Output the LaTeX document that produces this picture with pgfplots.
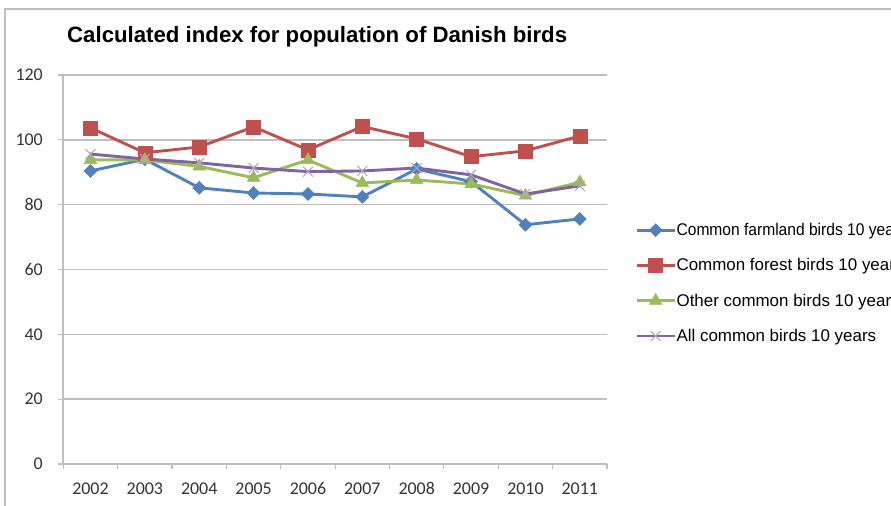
\documentclass[border=0pt]{standalone}
\usepackage{fontspec}
\setmainfont{Liberation Sans}
\newfontfamily\tickfont{Carlito}
\usepackage{pgfplots}
\pgfplotsset{compat=1.18}

\definecolor{farm}{HTML}{4F81BD}
\definecolor{forest}{HTML}{C0504D}
\definecolor{other}{HTML}{9BBB59}
\definecolor{allb}{HTML}{8064A2}
\definecolor{allmark}{HTML}{B3A2C7}
\definecolor{gridc}{HTML}{BEBEBE}

\begin{document}
\begin{tikzpicture}
\useasboundingbox (0,0) rectangle (891bp,506bp);
\clip (0,0) rectangle (891bp,506bp);
% chart frame
\draw[gridc, line width=2bp] (4.5bp,0) -- (4.5bp,497bp) -- (891bp,497bp);
\node[anchor=base west, font=\fontsize{22.3}{26}\selectfont\bfseries, inner sep=0]
  at (67bp,463bp) {Calculated index for population of Danish birds};

\begin{axis}[
    at={(63.3bp,42bp)}, anchor=south west,
    scale only axis, width=543.7bp, height=389bp,
    xmin=-0.5, xmax=9.5, ymin=0, ymax=120,
    xtick={0,...,9},
    xticklabels={2002,2003,2004,2005,2006,2007,2008,2009,2010,2011},
    major x tick style={draw=none},
    minor xtick={-0.5,0.5,...,9.5},
    ytick={0,20,...,120},
    tick align=outside, major tick length=5bp, minor tick length=5bp,
    tick style={gridc, line width=1.2bp},
    ymajorgrids, grid style={gridc, line width=1.6bp},
    axis x line*=bottom, axis y line*=left,
    axis line style={gridc, line width=1.6bp, -},
    xticklabel style={font=\tickfont\fontsize{18}{20}\selectfont, text=black!80, yshift=-10bp},
    yticklabel style={font=\tickfont\fontsize{18}{20}\selectfont, text=black!80, xshift=-12bp,
                      /pgf/number format/assume math mode=true},
    legend style={at={(axis description cs:1.0515,0.465)}, anchor=west,
                  draw=none, fill=none, inner sep=0pt,
                  font=\fontsize{17}{19}\selectfont, row sep=17.5bp,
                  nodes={inner xsep=0.5bp, inner ysep=2bp}},
    legend cell align=left,
    legend image code/.code={\draw[mark repeat=2,mark phase=2]
        plot coordinates {(0bp,0bp)(19bp,0bp)(38bp,0bp)};},
    every axis plot/.append style={line width=2.9bp},
  ]
  \addplot[farm, mark=square*, mark size=4.6bp, mark options={rotate=45, line width=0.5bp}]
    coordinates {(0,90.4)(1,94.0)(2,85.2)(3,83.6)(4,83.3)(5,82.4)(6,91.0)(7,87.1)(8,73.8)(9,75.6)};
  \addplot[forest, mark=square*, mark size=7bp, mark options={line width=0.5bp}]
    coordinates {(0,103.7)(1,96.0)(2,97.8)(3,104.0)(4,96.9)(5,104.1)(6,100.3)(7,94.8)(8,96.6)(9,101.2)};
  \addplot[other, mark=triangle*, mark size=7.3bp, mark options={line width=0.5bp}]
    coordinates {(0,93.8)(1,93.8)(2,91.8)(3,88.3)(4,93.8)(5,86.7)(6,87.6)(7,86.4)(8,82.8)(9,86.9)};
  \addplot[allb, mark=x, mark size=7bp, mark options={allmark, line width=1bp}]
    coordinates {(0,95.6)(1,94.1)(2,92.9)(3,91.3)(4,90.2)(5,90.4)(6,91.3)(7,89.2)(8,83.3)(9,85.8)};
  \legend{\scalebox{0.92}[1]{Common farmland birds 10 years}, Common forest birds 10 years,
          Other common birds 10 years, All common birds 10 years}
\end{axis}
\end{tikzpicture}
\end{document}
